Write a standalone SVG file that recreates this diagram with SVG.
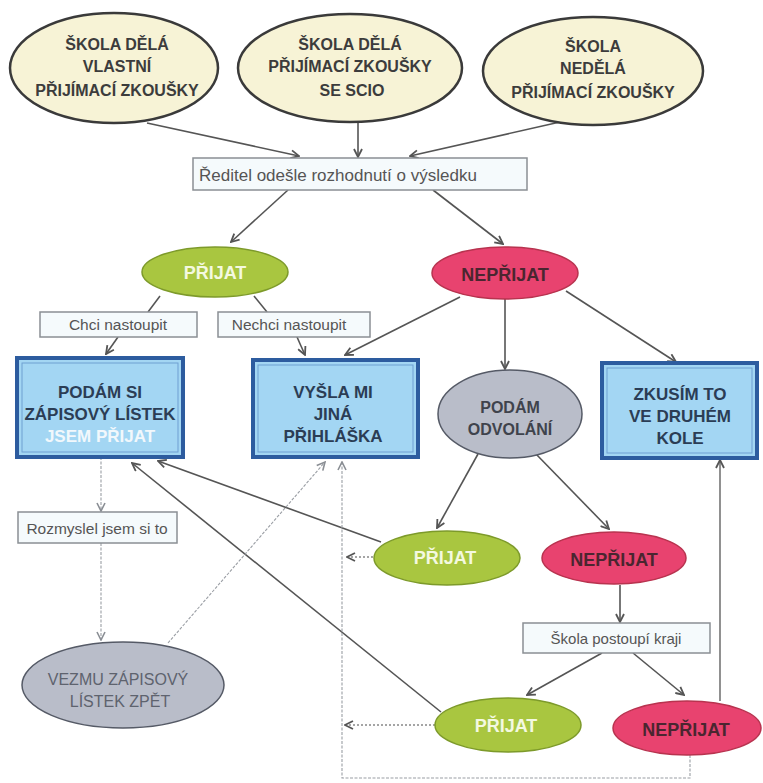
<svg xmlns="http://www.w3.org/2000/svg" width="763" height="783" viewBox="0 0 763 783">
<style>
.cream{fill:#f7f3d6;stroke:#3a3a3a;stroke-width:2.5}
.green{fill:#a9c640;stroke:#7d9a2a;stroke-width:1.5}
.pink{fill:#e8436f;stroke:#b8334f;stroke-width:1.5}
.gray{fill:#b9bdc9;stroke:#555a66;stroke-width:1.5}
.blue{fill:#a3d6f3;stroke:#2d5c9f;stroke-width:4}
.blueIn{fill:none;stroke:#6f9fd2;stroke-width:1}
.lbl{fill:#f5fafc;stroke:#8a8f94;stroke-width:1.5}
text{font-family:"Liberation Sans",Arial,sans-serif;text-anchor:middle}
.tc{font-weight:bold;font-size:16px;fill:#3c3c3c}
.tg{font-weight:bold;font-size:18px;fill:#f4f9e0}
.tp{font-weight:bold;font-size:18px;fill:#4a2630}
.tb{font-weight:bold;font-size:17px;fill:#2b3d55}
.tw{font-weight:bold;font-size:17px;fill:#f2f8fc}
.to{font-weight:bold;font-size:16px;fill:#3f434c}
.tv{font-size:16px;fill:#5e636e}
.tl{font-size:15.5px;fill:#555}
.c{fill:none;stroke:#555;stroke-width:1.6}
.cl{fill:none;stroke:#9a9ea4;stroke-width:1.1;stroke-dasharray:3 1.5}
.cd{fill:none;stroke:#888;stroke-width:1.3;stroke-dasharray:2 2}
</style>
<defs>
<marker id="ah" viewBox="0 0 10 10" refX="9" refY="5" markerWidth="10" markerHeight="10" orient="auto" markerUnits="userSpaceOnUse">
<path d="M1,1 L9,5 L1,9" fill="none" stroke="#555" stroke-width="1.8"/>
</marker>
<marker id="al" viewBox="0 0 10 10" refX="9" refY="5" markerWidth="10" markerHeight="10" orient="auto" markerUnits="userSpaceOnUse">
<path d="M1,1 L9,5 L1,9" fill="none" stroke="#8a8e94" stroke-width="1.6"/>
</marker>
</defs>
<rect width="763" height="783" fill="#ffffff"/>

<g id="connectors">
<path class="c" d="M147,123 L299,156" marker-end="url(#ah)"/>
<path class="c" d="M358,122 L358,157" marker-end="url(#ah)"/>
<path class="c" d="M560,122 L410,156" marker-end="url(#ah)"/>
<path class="c" d="M288,190 L231,242" marker-end="url(#ah)"/>
<path class="c" d="M433,190 L503,244" marker-end="url(#ah)"/>
<path class="c" d="M160,296 L148,312"/>
<path class="c" d="M254,296 L267,312"/>
<path class="c" d="M118,337 L106,354" marker-end="url(#ah)"/>
<path class="c" d="M297,337 L305,355" marker-end="url(#ah)"/>
<path class="c" d="M460,297 L345,355" marker-end="url(#ah)"/>
<path class="c" d="M505,299 L505,369" marker-end="url(#ah)"/>
<path class="c" d="M566,291 L676,362" marker-end="url(#ah)"/>
<path class="c" d="M478,454 L437,528" marker-end="url(#ah)"/>
<path class="c" d="M535,453 L609,529" marker-end="url(#ah)"/>
<path class="c" d="M381,542 L158,461" marker-end="url(#ah)"/>
<path class="cd" d="M373,557 L347,557" marker-end="url(#ah)"/>
<path class="c" d="M620,585 L620,622" marker-end="url(#ah)"/>
<path class="c" d="M602,653 L527,695" marker-end="url(#ah)"/>
<path class="c" d="M633,653 L684,695" marker-end="url(#ah)"/>
<path class="c" d="M441,712 L132,463" marker-end="url(#ah)"/>
<path class="cd" d="M435,725 L345,725" marker-end="url(#ah)"/>
<path class="c" d="M720,701 L720,460" marker-end="url(#ah)" style="stroke-width:1.3"/>
<path class="cl" d="M690,755 L690,778 L342,778 L342,462" marker-end="url(#al)"/>
<path class="cl" d="M101,457 L101,511" marker-end="url(#al)"/>
<path class="cl" d="M101,543 L101,640" marker-end="url(#al)"/>
<path class="cl" d="M168,643 L325,462" marker-end="url(#al)"/>
</g>

<g id="skola-vlastni">
<ellipse class="cream" cx="114" cy="68" rx="104" ry="55"/>
<text class="tc" x="117" y="50">ŠKOLA DĚLÁ</text>
<text class="tc" x="117" y="72">VLASTNÍ</text>
<text class="tc" x="117" y="96">PŘIJÍMACÍ ZKOUŠKY</text>
</g>
<g id="skola-scio">
<ellipse class="cream" cx="350" cy="68" rx="112" ry="54"/>
<text class="tc" x="350" y="50">ŠKOLA DĚLÁ</text>
<text class="tc" x="350" y="72">PŘIJÍMACÍ ZKOUŠKY</text>
<text class="tc" x="352" y="96">SE SCIO</text>
</g>
<g id="skola-nedela">
<ellipse class="cream" cx="593" cy="71" rx="110" ry="54"/>
<text class="tc" x="593" y="52">ŠKOLA</text>
<text class="tc" x="593" y="74">NEDĚLÁ</text>
<text class="tc" x="593" y="98">PŘIJÍMACÍ ZKOUŠKY</text>
</g>
<g id="reditel">
<rect class="lbl" x="193" y="158" width="334" height="32"/>
<text class="tl" x="199" y="181" style="text-anchor:start;font-size:17px">Ředitel odešle rozhodnutí o výsledku</text>
</g>
<g id="prijat1">
<ellipse class="green" cx="215" cy="272" rx="73" ry="25"/>
<text class="tg" x="215" y="279">PŘIJAT</text>
</g>
<g id="neprijat1">
<ellipse class="pink" cx="505" cy="273" rx="73" ry="26"/>
<text class="tp" x="505" y="281">NEPŘIJAT</text>
</g>
<g id="chci">
<rect class="lbl" x="40" y="312" width="157" height="25"/>
<text class="tl" x="118" y="330">Chci nastoupit</text>
</g>
<g id="nechci">
<rect class="lbl" x="218" y="312" width="152" height="25"/>
<text class="tl" x="289" y="330">Nechci nastoupit</text>
</g>
<g id="zapisovy">
<rect class="blue" x="17" y="358" width="166" height="99"/>
<rect class="blueIn" x="22" y="363" width="156" height="89"/>
<text class="tb" x="100" y="398">PODÁM SI</text>
<text class="tb" x="100" y="420">ZÁPISOVÝ LÍSTEK</text>
<text class="tw" x="100" y="442">JSEM PŘIJAT</text>
</g>
<g id="jina-prihlaska">
<rect class="blue" x="253" y="360" width="165" height="97"/>
<rect class="blueIn" x="258" y="365" width="155" height="87"/>
<text class="tb" x="333" y="398">VYŠLA MI</text>
<text class="tb" x="333" y="420">JINÁ</text>
<text class="tb" x="333" y="442">PŘIHLÁŠKA</text>
</g>
<g id="odvolani">
<ellipse class="gray" cx="510" cy="414" rx="72" ry="44"/>
<text class="to" x="510" y="413">PODÁM</text>
<text class="to" x="510" y="435">ODVOLÁNÍ</text>
</g>
<g id="druhe-kolo">
<rect class="blue" x="602" y="363" width="155" height="95"/>
<rect class="blueIn" x="607" y="368" width="145" height="85"/>
<text class="tb" x="680" y="400">ZKUSÍM TO</text>
<text class="tb" x="680" y="422">VE DRUHÉM</text>
<text class="tb" x="680" y="444">KOLE</text>
</g>
<g id="rozmyslel">
<rect class="lbl" x="18" y="512" width="159" height="31"/>
<text class="tl" x="97" y="534">Rozmyslel jsem si to</text>
</g>
<g id="prijat2">
<ellipse class="green" cx="447" cy="558" rx="73" ry="27"/>
<text class="tg" x="445" y="564">PŘIJAT</text>
</g>
<g id="neprijat2">
<ellipse class="pink" cx="614" cy="558" rx="72" ry="26"/>
<text class="tp" x="614" y="566">NEPŘIJAT</text>
</g>
<g id="skola-kraji">
<rect class="lbl" x="523" y="623" width="187" height="30"/>
<text class="tl" x="616" y="644" style="font-size:15px">Škola postoupí kraji</text>
</g>
<g id="vezmu">
<ellipse class="gray" cx="123" cy="685" rx="101" ry="43"/>
<text class="tv" x="118" y="685">VEZMU ZÁPISOVÝ</text>
<text class="tv" x="120" y="707">LÍSTEK ZPĚT</text>
</g>
<g id="prijat3">
<ellipse class="green" cx="508" cy="725" rx="73" ry="27"/>
<text class="tg" x="506" y="732">PŘIJAT</text>
</g>
<g id="neprijat3">
<ellipse class="pink" cx="687" cy="728" rx="74" ry="27"/>
<text class="tp" x="686" y="736">NEPŘIJAT</text>
</g>
</svg>
